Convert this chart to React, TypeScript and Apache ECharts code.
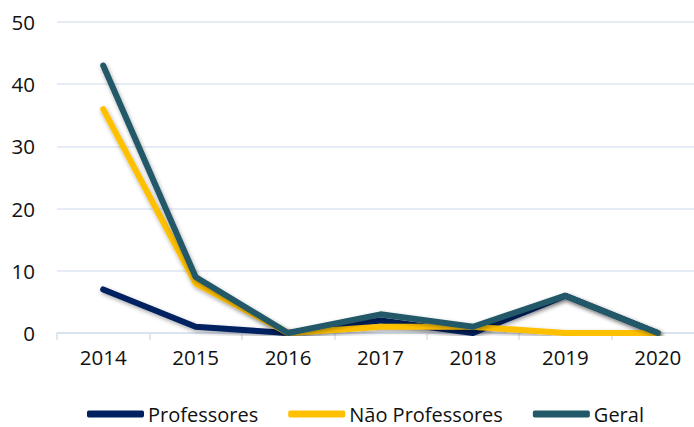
import React, { useEffect, useRef } from "react";
import * as echarts from "echarts";

const categories = ["2014", "2015", "2016", "2017", "2018", "2019", "2020"];
const professores = [7, 1, 0, 2, 0, 6, 0];
const naoProfessores = [36, 8, 0, 1, 1, 0, 0];
const geral = [43, 9, 0, 3, 1, 6, 0];
const seriesNames = ["Professores", "Não Professores", "Geral"];
const colors = ["#002060", "#FFC000", "#215968"];

export default function App() {
  const ref = useRef<HTMLDivElement>(null);
  useEffect(() => {
    if (!ref.current) return;
    const chart = echarts.init(ref.current, null, { renderer: "svg" });
    const font = "'Open Sans', 'Noto Sans', sans-serif";
    const data = [professores, naoProfessores, geral];
    chart.setOption({
      animation: false,
      backgroundColor: "#ffffff",
      grid: { left: 57, right: 6, top: 22, bottom: 94, containLabel: false },
      legend: {
        left: 82,
        top: 399,
        itemWidth: 57,
        itemHeight: 7,
        itemGap: 30,
        icon: "roundRect",
        textStyle: { fontFamily: font, fontSize: 20, color: "#111111", lineHeight: 20, padding: [0, 0, 0, -1] },
        data: seriesNames,
      },
      xAxis: {
        type: "category",
        data: categories,
        boundaryGap: true,
        axisLine: { lineStyle: { color: "#D6E0EE", width: 1.5 } },
        axisTick: { show: true, length: 7, lineStyle: { color: "#D6E0EE", width: 1.5 } },
        axisLabel: { fontFamily: font, fontSize: 20.5, color: "#111111", margin: 13 },
        splitLine: { show: false },
      },
      yAxis: {
        type: "value",
        min: 0,
        max: 50,
        interval: 10,
        axisLine: { show: false },
        axisTick: { show: false },
        axisLabel: { fontFamily: font, fontSize: 20.5, color: "#111111", margin: 22 },
        splitLine: { lineStyle: { color: "#DCE6F2", width: 1.5 } },
      },
      series: seriesNames.map((name, i) => ({
        name,
        type: "line",
        data: data[i],
        symbol: "none",
        color: colors[i],
        lineStyle: {
          width: 6,
          color: colors[i],
          cap: "round",
          join: "round",
          shadowBlur: 4,
          shadowColor: "rgba(0,0,0,0.35)",
          shadowOffsetX: 1,
          shadowOffsetY: 2,
        },
        z: 2 + i,
      })),
    });
    return () => chart.dispose();
  }, []);
  return (
    <div style={{ position: "fixed", left: 0, top: 0, width: 694, height: 427, overflow: "hidden", background: "#fff" }}>
      <div ref={ref} style={{ width: 710, height: 427 }} />
    </div>
  );
}
